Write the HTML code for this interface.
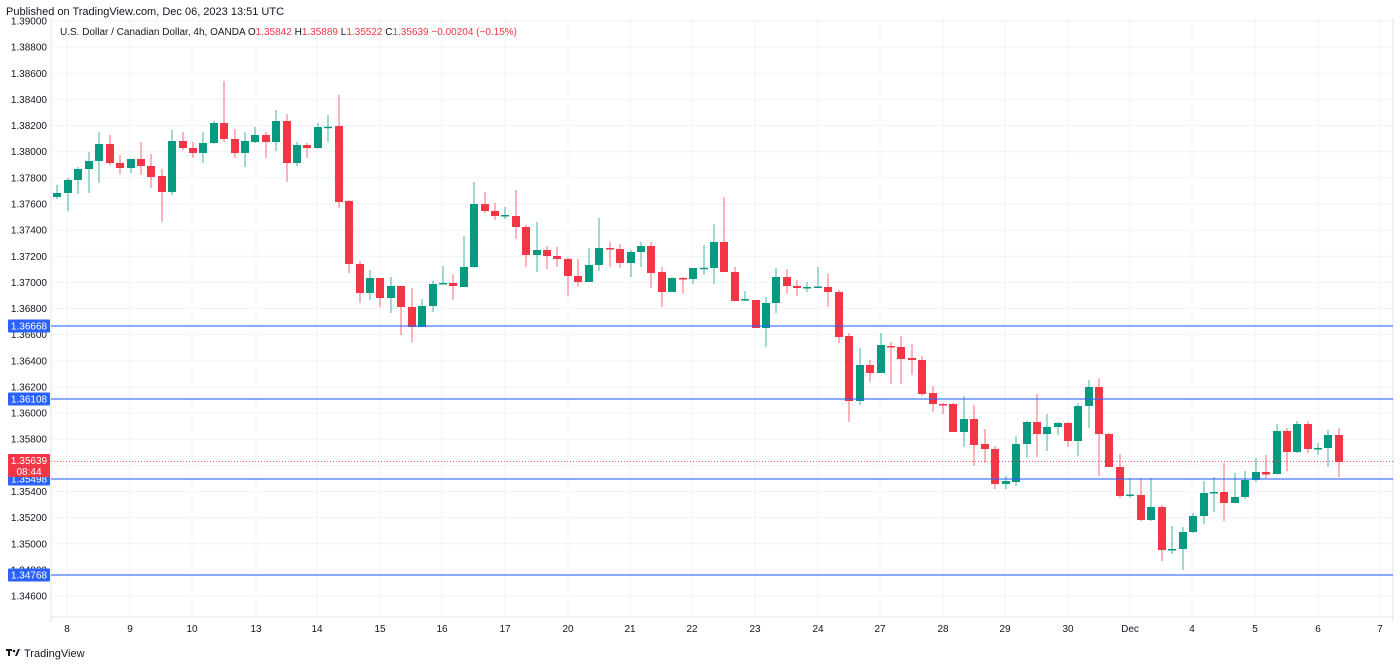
<!DOCTYPE html>
<html><head><meta charset="utf-8"><style>
html,body{margin:0;padding:0;background:#fff;width:1400px;height:667px;overflow:hidden;font-family:"Liberation Sans",sans-serif}
svg{position:absolute;left:0;top:0}
</style></head><body>
<svg id="s" width="1400" height="667" xmlns="http://www.w3.org/2000/svg" font-family="Liberation Sans, sans-serif"></svg>
<script>
const s=document.getElementById('s');let h='';
// grid
const L=51,R=1393,T=18,B=617;
for(let k=0;k<=22;k++){const y=21+k*26.14;h+=`<line x1="${L}" x2="${R}" y1="${y}" y2="${y}" stroke="#f0f3fa"/>`;
h+=`<text x="47" y="${y+3.5}" font-size="10" text-anchor="end" fill="#131722">${(1.39-k*0.002).toFixed(5)}</text>`;}
const xl=[[67,'8'],[130,'9'],[192,'10'],[256,'13'],[317,'14'],[380,'15'],[442,'16'],[505,'17'],[568,'20'],[630,'21'],[692,'22'],[755,'23'],[818,'24'],[880,'27'],[943,'28'],[1005,'29'],[1068,'30'],[1130,'Dec'],[1192,'4'],[1255,'5'],[1318,'6'],[1380,'7']];
for(const [x,t] of xl){h+=`<line x1="${x}" x2="${x}" y1="${T}" y2="${B}" stroke="#f0f3fa"/>`;h+=`<text x="${x}" y="632" font-size="10" text-anchor="middle" fill="#131722">${t}</text>`;}
h+=`<line x1="${L}" x2="${L}" y1="${T}" y2="${B+5}" stroke="#e0e3eb"/><line x1="${R}" x2="${R}" y1="${T}" y2="${B+5}" stroke="#e0e3eb"/><line x1="${L}" x2="${R}" y1="${B}" y2="${B}" stroke="#e0e3eb"/>`;
// candles: x, open y, close y, high y, low y
const c=[[57,197,193,185,199],[68,193,180,178,211],[78,180,169,167,194],[89,169,161,152,193],[99,161,144,132,183],[110,144,163,135,165],[120,163,168,155,174],[131,168,159,159,173],[141,159,166,142,175],[151,166,177,154,188],[162,176,192,169,222],[172,192,141,130,195],[183,141,148,132,150],[193,148,153,142,158],[203,153,143,132,163],[214,143,123,121,144],[224,123,139,81,142],[235,139,153,129,158],[245,153,141,132,167],[255,142,135,127,143],[266,135,142,132,158],[276,142,121,110,151],[287,121,163,114,182],[297,163,145,142,166],[307,145,148,143,158],[318,148,127,123,149],[328,127.5,126.7,115,142],[339,126,202,95,208],[349,201,264,200,273],[360,264,293,261,303],[370,293,278,270,300],[380,278,298,278,307],[391,298,286,277,313],[401,286,307,286,335],[412,307,327,288,342],[422,327,306,299,327],[433,306,284,281,312],[443,284,283,266,284],[453,283,286,274,300],[464,287,267,236,287],[474,267,204,182,268],[485,204,211,192,213],[495,211,216,203,220],[505,216,215,207,219],[516,216,227,190,239],[526,227,255,225,267],[537,255,250,222,272],[547,250,256,246,269],[557,256,259,247,267],[568,259,276,257,296],[578,276,282,259,287],[589,282,265,248,282],[599,265,248,218,271],[610,248,249.5,242,267],[620,249,263,244,268],[631,263,252,250,277],[641,252,246,242,267],[651,246,273,242,288],[662,272,292,267,307],[672,292,278,277,292],[683,278,279,277,294],[693,279,268,268,284],[704,268.5,267.7,245,275],[714,268,242,224,284],[724,242,272,197,272],[735,272,301,267,301],[745,300,299,291,301],[756,300,328,300,328],[766,328,303,297,347],[776,303,277,268,313],[787,277,286,269,294],[797,286,288,280,296],[807,287.7,287,282,292],[818,287.2,286.5,267,288],[828,287,292,274,307],[839,292,337,290,343],[849,336,401,333,422],[860,401,365,348,405],[870,365,373,360,382],[881,373,345,333,373],[891,346,347.5,342,384],[901,347,359,336,384],[912,358,360,344,375],[922,360,394,356,396],[933,393,404,386,412],[943,404,405,403,414],[953,404,432,403,432],[964,432,419,396,447],[974,419,445,405,466],[985,444,449,429,463],[995,449,484,446,489],[1006,484,481,476,489],[1016,482,444,436,486],[1027,444,422,421,458],[1037,422,434,394,457],[1047,434,427,414,451],[1058,427,423,422,435],[1068,423,441,422,447],[1078,441,406,403,456],[1089,406,387,380,428],[1099,387,434,378,476],[1109,434,467,433,467],[1120,467,496,454,498],[1130,495.5,494.5,478,498],[1141,495,520,478,521],[1151,520,507,478,521],[1162,507,550,505,561],[1172,549.7,549,526,554],[1183,549,532,527,570],[1193,532,516,513,533],[1204,516,493,481,524],[1214,492.8,492,477,512],[1224,492,503,463,521],[1235,503,497,473,503],[1245,497,480,471,499],[1256,480,472,458,482],[1266,472,474.5,455,479],[1277,474,431,424,474],[1287,431,452,428,471],[1297,452,424,421,453],[1308,424,449,421,453],[1318,448.6,448,443,455],[1328,448,435,430,467],[1339,435,462,428,477]];
for(const [x,o,cl,hi,lo] of c){const g=cl<o;const col=g?'#089981':'#f23645';const t=Math.min(o,cl),b=Math.max(o,cl);
h+=`<line x1="${x}" x2="${x}" y1="${hi}" y2="${lo}" stroke="${col}" stroke-opacity="0.75" stroke-width="1"/>`;
h+=`<rect x="${x-4}" y="${t}" width="8" height="${Math.max(b-t,1.5)}" fill="${col}"/>`;}
// horizontal lines
for(const [y,t] of [[326,'1.36668'],[399,'1.36108'],[479,'1.35498'],[575,'1.34768']]){
h+=`<line x1="${L}" x2="${R}" y1="${y}" y2="${y}" stroke="#2962ff" stroke-width="1.2" opacity="0.85"/>`;
h+=`<rect x="8" y="${y-6.5}" width="42" height="13" rx="1" fill="#2962ff"/><text x="29" y="${y+3.5}" font-size="10" text-anchor="middle" fill="#fff">${t}</text>`;}
// current price
h+=`<line x1="${L}" x2="${R}" y1="461.5" y2="461.5" stroke="#f23645" stroke-dasharray="1,2" opacity="0.8"/>`;
h+=`<rect x="8" y="454" width="42" height="23" rx="1" fill="#f23645"/><text x="29" y="464" font-size="10" text-anchor="middle" fill="#fff">1.35639</text><text x="29" y="475" font-size="10" text-anchor="middle" fill="#fff">08:44</text>`;
// texts
h+=`<text x="6" y="15" font-size="11" fill="#131722">Published on TradingView.com, Dec 06, 2023 13:51 UTC</text>`;
h+=`<text x="60" y="35" font-size="10" fill="#131722">U.S. Dollar / Canadian Dollar, 4h, OANDA <tspan>  O</tspan><tspan fill="#f23645">1.35842</tspan> H<tspan fill="#f23645">1.35889</tspan> L<tspan fill="#f23645">1.35522</tspan> C<tspan fill="#f23645">1.35639 −0.00204 (−0.15%)</tspan></text>`;
h+=`<g fill="#131722"><rect x="6" y="649" width="6" height="2"/><rect x="8" y="649" width="2" height="7"/><circle cx="14" cy="651" r="1.3"/><path d="M15 656 L18 649 L20 649 L17 656Z"/></g><text x="24" y="657" font-size="11" fill="#131722">TradingView</text>`;
s.innerHTML=h;
</script>
</body></html>
